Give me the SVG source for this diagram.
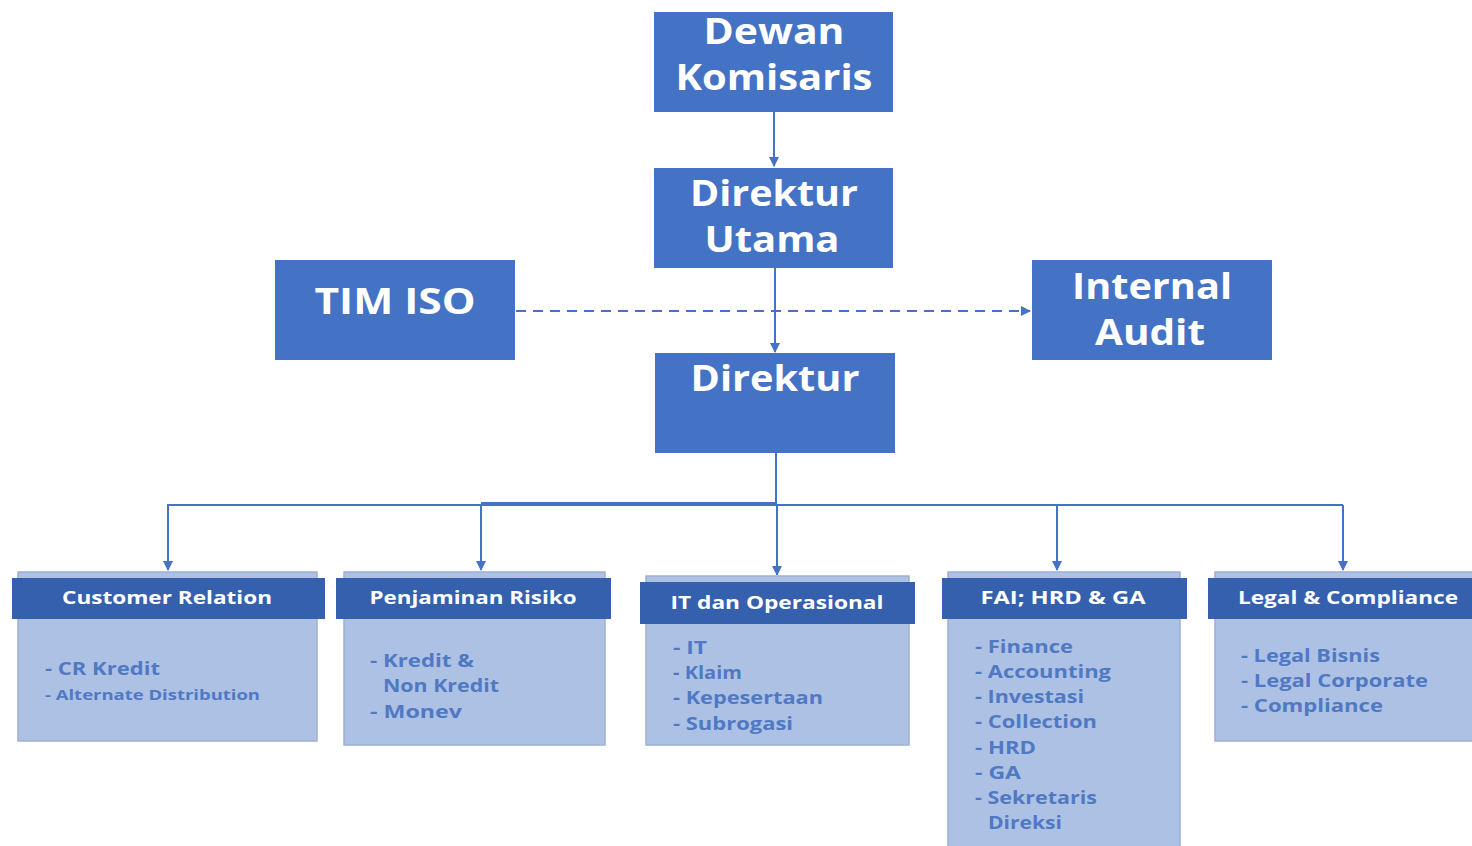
<svg xmlns="http://www.w3.org/2000/svg" width="1472" height="846" viewBox="0 0 1472 846">
<style>
.big{fill:#4472c4}
.bt{font-family:"Open Sans","Liberation Sans",sans-serif;font-weight:bold;font-size:35px;fill:#fff;text-anchor:middle}
.body{fill:#adc1e4;stroke:#9db0d4;stroke-width:1.5}
.hdr{fill:#3560ae}
.ht{font-family:"Open Sans","Liberation Sans",sans-serif;font-weight:bold;font-size:17px;fill:#fff;text-anchor:middle}
.it{font-family:"Open Sans","Liberation Sans",sans-serif;font-weight:bold;font-size:17px;fill:#5079c4}
.ln{stroke:#4472c4;stroke-width:2;fill:none}
</style>
<defs>
<marker id="ar" viewBox="0 0 10 10" refX="9" refY="5" markerWidth="5" markerHeight="5" orient="auto" markerUnits="strokeWidth">
<path d="M0,0 L10,5 L0,10 z" fill="#4472c4"/>
</marker>
</defs>
<rect width="1472" height="846" fill="#fff"/>
<g id="connectors">
<line class="ln" x1="774" y1="112" x2="774" y2="166" marker-end="url(#ar)"/>
<line class="ln" x1="775" y1="268" x2="775" y2="352" marker-end="url(#ar)"/>
<line class="ln" x1="516" y1="311" x2="1030" y2="311" stroke-dasharray="10,7" marker-end="url(#ar)"/>
<line class="ln" x1="776" y1="453" x2="776" y2="505"/>
<line class="ln" x1="167" y1="505" x2="1343" y2="505"/>
<line class="ln" x1="481" y1="503" x2="776" y2="503"/>
<line class="ln" x1="168" y1="505" x2="168" y2="570" marker-end="url(#ar)"/>
<line class="ln" x1="481" y1="505" x2="481" y2="570" marker-end="url(#ar)"/>
<line class="ln" x1="777" y1="505" x2="777" y2="575" marker-end="url(#ar)"/>
<line class="ln" x1="1057" y1="505" x2="1057" y2="570" marker-end="url(#ar)"/>
<line class="ln" x1="1343" y1="505" x2="1343" y2="570" marker-end="url(#ar)"/>
</g>
<g id="dewan-komisaris">
<rect class="big" x="654" y="12" width="239" height="100"/>
<text class="bt" x="774" y="44" textLength="141" lengthAdjust="spacingAndGlyphs">Dewan</text>
<text class="bt" x="774" y="90" textLength="197" lengthAdjust="spacingAndGlyphs">Komisaris</text>
</g>
<g id="direktur-utama">
<rect class="big" x="654" y="168" width="239" height="100"/>
<text class="bt" x="774" y="206" textLength="168" lengthAdjust="spacingAndGlyphs">Direktur</text>
<text class="bt" x="772" y="252" textLength="135" lengthAdjust="spacingAndGlyphs">Utama</text>
</g>
<g id="tim-iso">
<rect class="big" x="275" y="260" width="240" height="100"/>
<text class="bt" x="395" y="314" textLength="161" lengthAdjust="spacingAndGlyphs">TIM ISO</text>
</g>
<g id="internal-audit">
<rect class="big" x="1032" y="260" width="240" height="100"/>
<text class="bt" x="1152" y="299" textLength="160" lengthAdjust="spacingAndGlyphs">Internal</text>
<text class="bt" x="1150" y="345" textLength="110" lengthAdjust="spacingAndGlyphs">Audit</text>
</g>
<g id="direktur">
<rect class="big" x="655" y="353" width="240" height="100"/>
<text class="bt" x="775" y="391" textLength="169" lengthAdjust="spacingAndGlyphs">Direktur</text>
</g>
<g id="customer-relation">
<rect class="body" x="18" y="572" width="299" height="169"/>
<rect class="hdr" x="12" y="578" width="313" height="41"/>
<text class="ht" x="167" y="604" textLength="210" lengthAdjust="spacingAndGlyphs">Customer Relation</text>
<text class="it" x="45" y="675" textLength="115" lengthAdjust="spacingAndGlyphs">- CR Kredit</text>
<text class="it" x="45" y="700" style="font-size:14px" textLength="215" lengthAdjust="spacingAndGlyphs">- Alternate Distribution</text>
</g>
<g id="penjaminan-risiko">
<rect class="body" x="344" y="572" width="261" height="173"/>
<rect class="hdr" x="336" y="578" width="275" height="41"/>
<text class="ht" x="473" y="604" textLength="207" lengthAdjust="spacingAndGlyphs">Penjaminan Risiko</text>
<text class="it" x="370" y="667" textLength="104" lengthAdjust="spacingAndGlyphs">- Kredit &amp;</text>
<text class="it" x="383" y="692" textLength="116" lengthAdjust="spacingAndGlyphs">Non Kredit</text>
<text class="it" x="370" y="718" textLength="92" lengthAdjust="spacingAndGlyphs">- Monev</text>
</g>
<g id="it-dan-operasional">
<rect class="body" x="646" y="576" width="263" height="169"/>
<rect class="hdr" x="640" y="582" width="275" height="42"/>
<text class="ht" x="777" y="609" textLength="213" lengthAdjust="spacingAndGlyphs">IT dan Operasional</text>
<text class="it" x="673" y="654" textLength="34" lengthAdjust="spacingAndGlyphs">- IT</text>
<text class="it" x="673" y="679" textLength="69" lengthAdjust="spacingAndGlyphs">- Klaim</text>
<text class="it" x="673" y="704" textLength="150" lengthAdjust="spacingAndGlyphs">- Kepesertaan</text>
<text class="it" x="673" y="730" textLength="120" lengthAdjust="spacingAndGlyphs">- Subrogasi</text>
</g>
<g id="fai-hrd-ga">
<rect class="body" x="948" y="572" width="232" height="280"/>
<rect class="hdr" x="942" y="578" width="245" height="41"/>
<text class="ht" x="1063" y="604" textLength="165" lengthAdjust="spacingAndGlyphs">FAI; HRD &amp; GA</text>
<text class="it" x="975" y="653" textLength="98" lengthAdjust="spacingAndGlyphs">- Finance</text>
<text class="it" x="975" y="678" textLength="136" lengthAdjust="spacingAndGlyphs">- Accounting</text>
<text class="it" x="975" y="703" textLength="109" lengthAdjust="spacingAndGlyphs">- Investasi</text>
<text class="it" x="975" y="728" textLength="122" lengthAdjust="spacingAndGlyphs">- Collection</text>
<text class="it" x="975" y="754" textLength="61" lengthAdjust="spacingAndGlyphs">- HRD</text>
<text class="it" x="975" y="779" textLength="46" lengthAdjust="spacingAndGlyphs">- GA</text>
<text class="it" x="975" y="804" textLength="122" lengthAdjust="spacingAndGlyphs">- Sekretaris</text>
<text class="it" x="988" y="829" textLength="74" lengthAdjust="spacingAndGlyphs">Direksi</text>
</g>
<g id="legal-compliance">
<rect class="body" x="1215" y="572" width="262" height="169"/>
<rect class="hdr" x="1208" y="578" width="270" height="41"/>
<text class="ht" x="1348" y="604" textLength="220" lengthAdjust="spacingAndGlyphs">Legal &amp; Compliance</text>
<text class="it" x="1241" y="662" textLength="139" lengthAdjust="spacingAndGlyphs">- Legal Bisnis</text>
<text class="it" x="1241" y="687" textLength="187" lengthAdjust="spacingAndGlyphs">- Legal Corporate</text>
<text class="it" x="1241" y="712" textLength="142" lengthAdjust="spacingAndGlyphs">- Compliance</text>
</g>
</svg>
